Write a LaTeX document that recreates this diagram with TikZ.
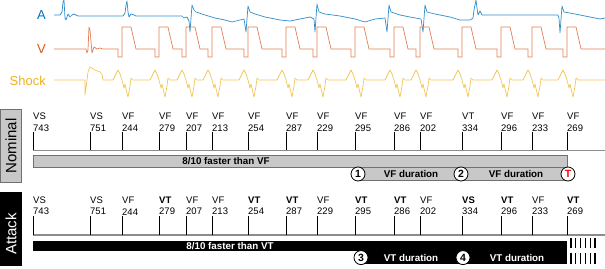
\documentclass[tikz,border=0pt]{standalone}
\usepackage{fontspec}
\setmainfont{Liberation Sans}
\definecolor{cA}{rgb}{0,0.447,0.741}
\definecolor{cV}{rgb}{0.85,0.325,0.098}
\definecolor{cS}{rgb}{0.929,0.694,0.125}
\definecolor{barg}{HTML}{C8C8C8}
\definecolor{bord}{HTML}{707070}
\begin{document}
\begin{tikzpicture}[x=1pt,y=-1pt,
  trA/.style={cA!80!white,line width=0.7pt,line join=round},
  trV/.style={cV!75!white,line width=0.7pt,line join=round},
  trS/.style={cS!75!white,line width=0.7pt,line join=round},
  sig/.style={font=\fontsize{13}{14}\selectfont,anchor=east,inner sep=0pt},
  lab/.style={font=\fontsize{9.5}{11}\selectfont,anchor=west,inner sep=0pt},
  tickmark/.style={black,line width=0.6pt},
  axisline/.style={black!45,line width=1.3pt},
  bartext/.style={font=\bfseries\fontsize{9.8}{11}\selectfont,inner sep=0pt},
  circ/.style={circle,draw=black,fill=white,line width=0.8pt,minimum size=14pt,inner sep=0pt,font=\bfseries\fontsize{10.5}{11}\selectfont},
  sidebox/.style={font=\fontsize{15}{16}\selectfont,rotate=90,inner sep=0pt}
]
\useasboundingbox (0,0) rectangle (605,268);

% ---------- signal labels ----------
\node[sig,text=cA] (labA) at (46,15) {A};
\node[sig,text=cV] (labV) at (46,49) {V};
\node[sig,text=cS] (labS) at (46,80.5) {Shock};

% ---------- A trace ----------
\draw[trA] (54,15) -- (60,15) -- (62,12) -- (63,2) -- (64,0) -- (65,18) -- (66,20) -- (68,14) -- (70,17) -- (72,15) -- (74,14) -- (78,16)
 -- (123,16) -- (125,13) -- (126,5) -- (127,1) -- (128,12) -- (129,17) -- (131,14) -- (134,15) -- (136,16)
 -- (182,16) -- (184,18) -- (187,17) -- (189,21)
 -- (190,32) -- (192,5) -- (194,10) -- (196,12) -- (205,15) -- (215,18) -- (225,20) -- (232,22) -- (240,20) -- (244,19)
 -- (246,32) -- (248,6) -- (250,12) -- (255,14) -- (265,17) -- (280,20) -- (290,21) -- (300,19) -- (310,17) -- (314,19)
 -- (315,32) -- (317,4) -- (319,12) -- (325,14) -- (340,16) -- (355,19) -- (365,22) -- (375,19) -- (385,18)
 -- (387,32) -- (389,5) -- (391,12) -- (400,15) -- (410,17) -- (421,19)
 -- (423,32) -- (425,5) -- (427,12) -- (435,14) -- (450,17) -- (460,20) -- (470,20) -- (473,18)
 -- (474,10) -- (476,0) -- (477,8) -- (478,15) -- (480,11) -- (482,15) -- (485,15)
 -- (558,15) -- (559,18) -- (560,33) -- (562,6) -- (564,12) -- (575,14) -- (590,17) -- (600,19) -- (605,18);

% ---------- V trace ----------
\draw[trV] (54,49) -- (86,49) -- (87,53) -- (88,50) -- (89,27) -- (90,30) -- (92,53) -- (94,47) -- (97,49) -- (100,48) -- (103,49)
  foreach \t in {122,159,186,212,248,286,317,355,394,420,462,501,532,567} {
   -- (\t-4,49) -- (\t-4,57) -- (\t,57) -- (\t,27) -- (\t+9,27) -- (\t+14,49) }
  -- (605,49);

% ---------- Shock trace ----------
\draw[trS] (54,80) -- (85,80) -- (85,95) -- (86,88) -- (88,72) -- (90,67) -- (95,70) -- (100,72) -- (102,74) -- (103,80)
  foreach \t in {122,159,186,212,248,286,317,355,394,420,462,501,532,567} {
   -- (\t-9,80) -- (\t-6,74) -- (\t-4,70) -- (\t-2,74) -- (\t,80) -- (\t+2,88) -- (\t+3,84) -- (\t+5,93) -- (\t+6,97) -- (\t+8,86) -- (\t+9,78) -- (\t+11,80) }
  -- (605,80);

% ---------- side boxes ----------
\draw[draw=bord,fill=barg,line width=0.6pt] (0,109) rectangle (21.5,182.7);
\node[sidebox] (nomlab) at (11,146) {Nominal};
\fill[black] (0,192.3) rectangle (21.5,265.7);
\node[sidebox,text=white] (attlab) at (11,234) {Attack};

% ---------- Nominal timeline ----------
\draw[axisline] (33,150.5) -- (605,150.5);
\foreach \x/\a/\n [count=\i] in {33/VS/743,90/VS/751,122/VF/244,159/VF/279,186/VF/207,212/VF/213,248/VF/254,286/VF/287,317/VF/229,355/VF/295,394/VF/286,420/VF/202,462/VT/334,501/VF/296,532/VF/233,567/VF/269}{
  \draw[tickmark] (\x,131.5) -- (\x,150);
  \node[lab] (na\i) at (\x,116) {\a};
  \node[lab] (nb\i) at (\x,128) {\n};
}
\draw[draw=bord,fill=barg,line width=0.6pt] (33,155) rectangle (567,167.5);
\node[bartext] (nbar1) at (226,161.3) {8/10 faster than VF};
\draw[draw=bord,fill=barg,line width=0.6pt] (358,167.5) rectangle (567,180);
\node[bartext] (nbar2) at (411,173.8) {VF duration};
\node[bartext] (nbar3) at (516,173.8) {VF duration};
\node[circ] (c1) at (358,174) {1};
\node[circ] (c2) at (461,174) {2};
\node[circ,text=red] (cT) at (568,174) {T};

% ---------- Attack timeline ----------
\draw[axisline] (33,235) -- (605,235);
\foreach \x/\a/\n [count=\i] in {33/VS/743,90/VS/751,122/VF/244,159/\textbf{VT}/279,186/VF/207,212/VF/213,248/\textbf{VT}/254,286/\textbf{VT}/287,317/VF/229,355/\textbf{VT}/295,394/\textbf{VT}/286,420/VF/202,462/\textbf{VS}/334,501/\textbf{VT}/296,532/VF/233,567/\textbf{VT}/269}{
  \draw[tickmark] (\x,216) -- (\x,234.5);
  \node[lab] (aa\i) at (\x,200) {\a};
  \node[lab] (ab\i) at (\x,211.7) {\n};
}
\fill[black] (33,240.5) rectangle (567,251);
\node[bartext,text=white] (abar1) at (230,245.7) {8/10 faster than VT};
\fill[black] (361,251) rectangle (567,264);
\node[bartext,text=white] (abar2) at (411,257.6) {VT duration};
\node[bartext,text=white] (abar3) at (517,257.6) {VT duration};
\node[circ] (c3) at (361,257.6) {3};
\node[circ] (c4) at (463,257.6) {4};
\foreach \k in {0,...,5}{
  \draw[black,line width=1.6pt] (570.7+4.9*\k,238) -- ++(0,10);
  \draw[black,line width=1.6pt] (570.7+4.9*\k,253) -- ++(0,11);
}
\end{tikzpicture}
\end{document}
